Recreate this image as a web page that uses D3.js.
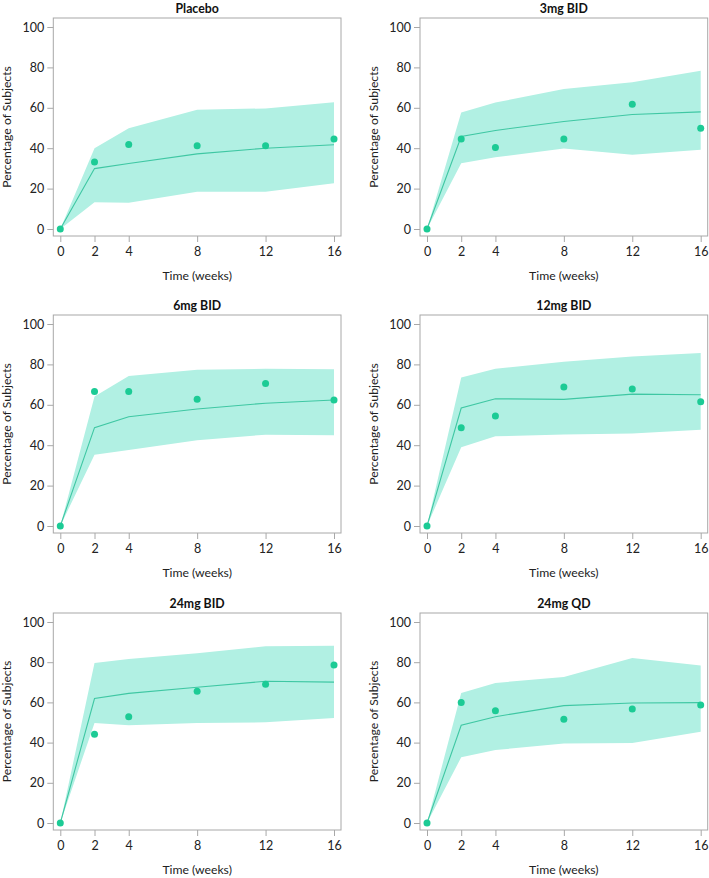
<!DOCTYPE html>
<html>
<head>
<meta charset="utf-8">
<script src="https://cdn.jsdelivr.net/npm/d3@7"></script>
<style>
  html, body { margin: 0; padding: 0; background: #fff; }
  svg { display: block; font-family: Lato, "Open Sans", sans-serif; }
</style>
</head>
<body>
<svg id="chart" width="709" height="878"></svg>
<script>
// ---- Data ----
const weeks = [0, 2, 4, 8, 12, 16];
const panelTitles = ["Placebo", "3mg BID", "6mg BID", "12mg BID", "24mg BID", "24mg QD"];

// Observed percentages (points)
const observedPlacebo = [0, 33.2, 41.8, 41.2, 41.2, 44.5];
const observed3mgBID  = [0, 44.6, 40.3, 44.6, 61.7, 49.9];
const observed6mgBID  = [0, 66.6, 66.6, 62.7, 70.5, 62.4];
const observed12mgBID = [0, 48.6, 54.4, 68.8, 67.8, 61.5];
const observed24mgBID = [0, 44.1, 52.9, 65.5, 69.0, 78.6];
const observed24mgQD  = [0, 60.0, 55.9, 51.6, 56.7, 58.7];

// Model-predicted median (line)
const medianPlacebo = [0, 29.9, 32.4, 37.2, 40.0, 41.7];
const median3mgBID  = [0, 45.8, 48.8, 53.2, 56.7, 58.0];
const median6mgBID  = [0, 48.7, 54.1, 57.9, 60.8, 62.4];
const median12mgBID = [0, 58.4, 63.0, 62.7, 65.3, 65.0];
const median24mgBID = [0, 61.9, 64.5, 67.5, 70.5, 70.1];
const median24mgQD  = [0, 48.6, 52.9, 58.4, 59.7, 59.9];

// Prediction interval upper bound
const upperPlacebo = [0, 40.0, 49.9, 59.0, 59.7, 62.8];
const upper3mgBID  = [0, 57.7, 62.6, 69.3, 72.6, 78.3];
const upper6mgBID  = [0, 64.1, 74.2, 77.3, 77.8, 77.6];
const upper12mgBID = [0, 73.5, 77.8, 81.3, 83.9, 85.7];
const upper24mgBID = [0, 79.6, 81.6, 84.4, 87.9, 88.2];
const upper24mgQD  = [0, 64.7, 69.7, 72.6, 82.1, 78.3];

// Prediction interval lower bound
const lowerPlacebo = [0, 13.2, 13.0, 18.5, 18.5, 22.6];
const lower3mgBID  = [0, 32.6, 35.5, 39.8, 36.7, 39.2];
const lower6mgBID  = [0, 35.3, 37.6, 42.5, 45.2, 44.9];
const lower12mgBID = [0, 39.0, 44.4, 45.3, 45.8, 47.6];
const lower24mgBID = [0, 49.8, 48.6, 49.8, 50.1, 52.2];
const lower24mgQD  = [0, 32.7, 36.3, 39.5, 39.8, 45.4];

const yTicks = [0, 20, 40, 60, 80, 100];
const xTicks = [0, 2, 4, 8, 12, 16];
const xLabel = "Time (weeks)";
const yLabel = "Percentage of Subjects";

const observed = [observedPlacebo, observed3mgBID, observed6mgBID, observed12mgBID, observed24mgBID, observed24mgQD];
const medians  = [medianPlacebo, median3mgBID, median6mgBID, median12mgBID, median24mgBID, median24mgQD];
const uppers   = [upperPlacebo, upper3mgBID, upper6mgBID, upper12mgBID, upper24mgBID, upper24mgQD];
const lowers   = [lowerPlacebo, lower3mgBID, lower6mgBID, lower12mgBID, lower24mgBID, lower24mgQD];

// ---- Layout ----
const colX0 = [60.3, 427];          // pixel of x=0 per column
const xSpan = 273.7;                 // pixels from week 0 to week 16
const rowY = [[229, 27], [526, 324], [823, 622]]; // [y at 0, y at 100]
const titleBase = [12.5, 309.5, 607.5];
const padX = 7, padTop = 9, padBottom = 7;

const bandColor = "#b1f0e3";
const pointColor = "#1ccb95";
const lineColor = "#3fc7a3";
const frameColor = "#a8a8a8";
const textColor = "#222";

const svg = d3.select("#chart");

panelTitles.forEach((title, i) => {
  const col = i % 2, row = Math.floor(i / 2);
  const x = d3.scaleLinear().domain([0, 16]).range([colX0[col], colX0[col] + xSpan]);
  const y = d3.scaleLinear().domain([0, 100]).range(rowY[row]);

  const left = x(0) - padX, right = x(16) + padX;
  const top = y(100) - padTop, bottom = y(0) + padBottom;

  const g = svg.append("g");

  // band
  const area = d3.area()
    .x((d, k) => x(weeks[k]))
    .y0((d, k) => y(lowers[i][k]))
    .y1((d, k) => y(uppers[i][k]));
  g.append("path").datum(weeks).attr("d", area).attr("fill", bandColor);

  // median line
  const line = d3.line().x((d, k) => x(weeks[k])).y(d => y(d));
  g.append("path").datum(medians[i]).attr("d", line)
    .attr("fill", "none").attr("stroke", lineColor).attr("stroke-width", 1.1);

  // points
  g.selectAll("circle.pt").data(observed[i]).enter().append("circle")
    .attr("class", "pt")
    .attr("cx", (d, k) => x(weeks[k])).attr("cy", d => y(d))
    .attr("r", 3.5).attr("fill", pointColor);

  // frame
  g.append("rect").attr("x", left).attr("y", top)
    .attr("width", right - left).attr("height", bottom - top)
    .attr("fill", "none").attr("stroke", frameColor).attr("stroke-width", 1);

  // y axis
  const yAxis = d3.axisLeft(y).tickValues(yTicks).tickSize(6).tickPadding(3);
  const ya = g.append("g").attr("transform", `translate(${left},0)`).call(yAxis);
  ya.select(".domain").remove();
  ya.selectAll(".tick line").attr("stroke", frameColor);
  ya.selectAll(".tick text").attr("fill", textColor)
    .style("font-size", "12.5px").style("font-family", "Lato, 'Open Sans', sans-serif");

  // x axis
  const xAxis = d3.axisBottom(x).tickValues(xTicks).tickSize(6).tickPadding(5);
  const xa = g.append("g").attr("transform", `translate(0,${bottom})`).call(xAxis);
  xa.select(".domain").remove();
  xa.selectAll(".tick line").attr("stroke", frameColor);
  xa.selectAll(".tick text").attr("fill", textColor)
    .style("font-size", "12.5px").style("font-family", "Lato, 'Open Sans', sans-serif");

  // title
  g.append("text").attr("x", (left + right) / 2).attr("y", titleBase[row])
    .attr("text-anchor", "middle").attr("font-weight", "bold")
    .attr("font-size", 12.3).attr("fill", "#111").text(title);

  // x label
  g.append("text").attr("x", (left + right) / 2).attr("y", bottom + 44)
    .attr("text-anchor", "middle").attr("font-size", 12.2)
    .attr("fill", textColor).text(xLabel);

  // y label
  g.append("text")
    .attr("transform", `translate(${left - 42},${(top + bottom) / 2}) rotate(-90)`)
    .attr("text-anchor", "middle").attr("font-size", 12.2)
    .attr("fill", textColor).text(yLabel);
});
</script>
</body>
</html>
